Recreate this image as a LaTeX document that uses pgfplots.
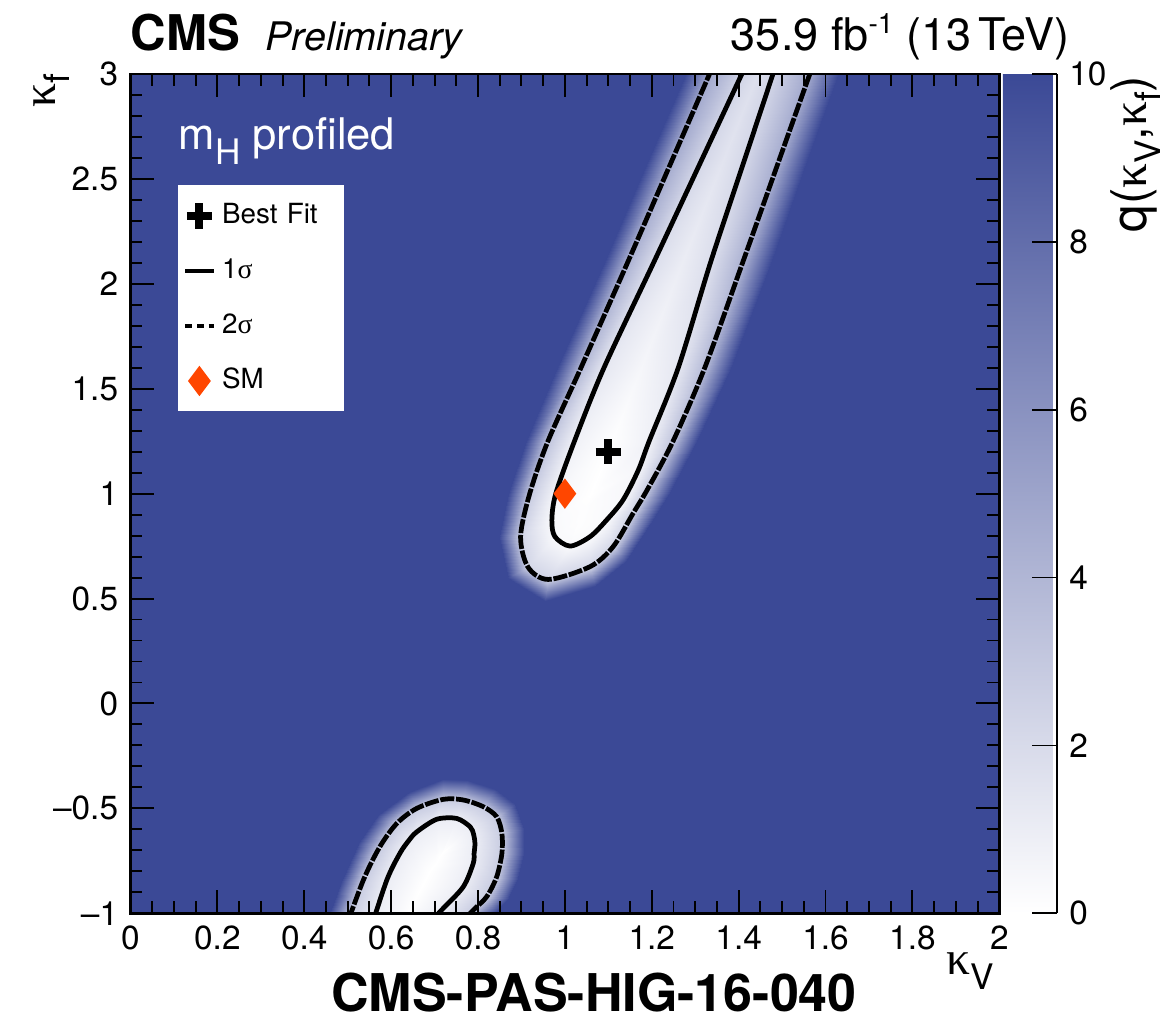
\documentclass[border=0pt]{standalone}
\usepackage{fontspec}
\setmainfont{TeX Gyre Heros}
\newfontfamily\grk{Liberation Serif}
\usepackage{pgfplots}
\usepackage{pgfplotstable}
\pgfplotsset{compat=1.18}
\definecolor{cmsblue}{RGB}{59,73,150}
\definecolor{smred}{RGB}{255,70,0}
\pgfplotsset{
  legimg mark/.style={legend image code/.code={\path (0cm,0cm) (0.29cm,0cm); \draw[##1] plot coordinates {(0.14cm,0cm)};}},
  legimg line/.style={legend image code/.code={\draw[##1] (0cm,0cm) -- (0.29cm,0cm);}},
}

% q(kV,kf) read off on nested rings: fade edge (q=10), 2 sigma, 1 sigma, ridge
\pgfplotstableread{
x y q
1.299 3.1 10
1.194 2.6 10
1.089 2.1 10
0.982 1.6 10
0.911 1.25 10
0.869 1.0 10
0.848 0.795 10
0.870 0.60 10
0.955 0.49 10
1.070 0.56 10
1.140 0.68 10
1.200 0.87 10
1.240 1.0 10
1.305 1.25 10
1.382 1.6 10
1.474 2.1 10
1.560 2.6 10
1.646 3.1 10
1.354 3.1 4.8
1.249 2.6 4.6
1.144 2.1 4.3
1.037 1.6 3.8
0.961 1.25 3.2
0.919 1.0 2.8
0.898 0.795 2.3
0.915 0.65 2.2
0.962 0.591 2.2
1.058 0.652 2.2
1.111 0.747 2.3
1.157 0.906 2.5
1.190 1.02 2.8
1.249 1.25 3.2
1.322 1.6 3.8
1.409 2.1 4.3
1.495 2.6 4.6
1.581 3.1 4.8
1.430 3.1 2.4
1.317 2.6 2.2
1.204 2.1 1.8
1.090 1.6 1.3
1.022 1.25 0.8
0.979 1.0 0.5
0.970 0.874 0.3
0.977 0.795 0.3
1.012 0.750 0.3
1.058 0.795 0.3
1.096 0.874 0.3
1.134 0.970 0.4
1.169 1.112 0.5
1.194 1.25 0.8
1.261 1.6 1.3
1.335 2.1 1.8
1.415 2.6 2.2
1.495 3.1 2.4
1.462 3.1 1.8
1.366 2.6 1.5
1.270 2.1 1.0
1.176 1.6 0.5
1.108 1.25 0.05
1.060 1.0 0.0
1.045 0.93 0.1
1.035 0.88 0.1
1.025 0.84 0.1
1.025 0.84 0.1
1.035 0.88 0.1
1.045 0.93 0.1
1.060 1.0 0.0
1.108 1.25 0.05
1.176 1.6 0.5
1.270 2.1 1.0
1.366 2.6 1.5
1.462 3.1 1.8
}\blobup

\pgfplotstableread{
x y q
0.440 -1.1 10
0.485 -0.85 10
0.525 -0.66 10
0.570 -0.53 10
0.640 -0.42 10
0.720 -0.36 10
0.775 -0.365 10
0.840 -0.41 10
0.885 -0.48 10
0.905 -0.60 10
0.905 -0.715 10
0.893 -0.83 10
0.870 -0.93 10
0.840 -1.0 10
0.790 -1.1 10
0.490 -1.1 2.8
0.536 -0.842 2.8
0.574 -0.683 2.8
0.613 -0.572 2.8
0.659 -0.500 2.8
0.720 -0.457 2.8
0.766 -0.460 2.8
0.812 -0.492 2.8
0.843 -0.540 2.8
0.855 -0.619 2.8
0.855 -0.715 2.8
0.843 -0.826 2.8
0.820 -0.921 2.8
0.789 -0.985 2.8
0.734 -1.1 2.8
0.549 -1.1 1.0
0.590 -0.842 1.0
0.620 -0.715 1.0
0.640 -0.655 1.0
0.659 -0.612 1.0
0.705 -0.552 1.0
0.751 -0.548 1.0
0.782 -0.588 1.0
0.790 -0.625 1.0
0.793 -0.667 1.0
0.791 -0.715 1.0
0.789 -0.762 1.0
0.766 -0.874 1.0
0.716 -0.985 1.0
0.664 -1.1 1.0
0.620 -1.1 0.1
0.650 -0.95 0.05
0.670 -0.87 0
0.685 -0.81 0
0.700 -0.77 0
0.710 -0.73 0
0.720 -0.71 0
0.725 -0.70 0
0.720 -0.71 0
0.710 -0.73 0
0.700 -0.77 0
0.685 -0.81 0
0.670 -0.87 0
0.650 -0.95 0.05
0.620 -1.1 0.1
}\blobdown

\begin{document}
\begin{tikzpicture}
\useasboundingbox (0,0) rectangle (11.65cm,10.2cm);
\begin{axis}[
  at={(1.305cm,1.067cm)}, anchor=south west,
  scale only axis, width=8.688cm, height=8.393cm,
  xmin=0, xmax=2, ymin=-1, ymax=3,
  axis background/.style={fill=cmsblue},
  colormap={cms}{rgb255=(255,255,255) rgb255=(59,73,150)},
  point meta min=0, point meta max=10,
  xtick={0,0.2,0.4,0.6,0.8,1,1.2,1.4,1.6,1.8,2},
  xticklabels={0,0.2,0.4,0.6,0.8,1,1.2,1.4,1.6,1.8,2},
  ytick={-1,-0.5,0,0.5,1,1.5,2,2.5,3},
  yticklabels={--1,--0.5,0,0.5,1,1.5,2,2.5,3},
  minor x tick num=3, minor y tick num=4,
  tick align=inside, major tick length=0.23cm, minor tick length=0.12cm,
  tick style={black, line width=0.55pt},
  axis line style={line width=0.8pt},
  ticklabel style={font=\fontsize{9.5}{11}\selectfont},
  axis on top,
  colorbar,
  colorbar shift/.style={xshift=0.037cm},
  colorbar style={at={(parent axis.north east)}, anchor=north west, width=0.54cm,
    ytick={0,2,4,6,8,10}, yticklabels={0,2,4,6,8,10},
    yticklabel style={font=\fontsize{9.5}{11}\selectfont},
    tick align=inside, ytick pos=right, major tick length=0.25cm,
    tick style={black, line width=0.5pt},
    axis x line=none, axis y line*=right, axis line style={line width=0.6pt}},
  legend style={at={(0.0535,0.868)}, anchor=north west, fill=white, draw=none,
    inner xsep=0.06cm, inner ysep=0.03cm, column sep=0.06cm, row sep=0pt,
    font=\fontsize{7.9}{9}\selectfont,
    nodes={inner sep=0pt, minimum height=0.55cm},
    /tikz/every even column/.append style={text width=1.16cm}},
  legend cell align=left,
]
\addplot[surf, shader=interp, mesh/cols=18, mesh/rows=4, point meta=explicit, forget plot] table[meta=q] {\blobup};
\addplot[surf, shader=interp, mesh/cols=15, mesh/rows=4, point meta=explicit, forget plot] table[meta=q] {\blobdown};

\addplot[black, line width=1.35pt, smooth, tension=0.5, forget plot,
  dash pattern=on 4pt off 0.5pt, restrict expr to domain={\coordindex}{18:35}] table {\blobup};
\addplot[black, line width=1.35pt, smooth, tension=0.5, forget plot,
  restrict expr to domain={\coordindex}{36:53}] table {\blobup};
\addplot[black, line width=1.35pt, smooth, tension=0.5, forget plot,
  dash pattern=on 4pt off 0.5pt, restrict expr to domain={\coordindex}{15:29}] table {\blobdown};
\addplot[black, line width=1.35pt, smooth, tension=0.5, forget plot,
  restrict expr to domain={\coordindex}{30:44}] table {\blobdown};

\addplot[only marks, mark=+, mark size=3.6pt, mark options={line width=2.3pt, black}, forget plot]
  coordinates {(1.1,1.2)};
\addplot[only marks, mark=diamond*, mark size=4pt, mark options={draw=smred, fill=smred}, forget plot]
  coordinates {(1,1)};

\addlegendimage{only marks, mark=+, mark size=3.6pt, mark options={line width=2.3pt, black}, legimg mark}
\addlegendentry{Best Fit}
\addlegendimage{black, line width=1pt, legimg line}
\addlegendentry{1{\grk σ}}
\addlegendimage{black, line width=1pt, dash pattern=on 1.9pt off 1.4pt, legimg line}
\addlegendentry{2{\grk σ}}
\addlegendimage{only marks, mark=diamond*, mark size=4pt, mark options={draw=smred, fill=smred}, legimg mark}
\addlegendentry{SM}
\end{axis}

\node[anchor=base west, inner sep=0pt, font=\fontsize{14}{16}\selectfont\bfseries] at (1.30cm,9.69cm) {CMS};
\node[anchor=base west, inner sep=0pt, font=\fontsize{11.2}{13}\selectfont\itshape] at (2.65cm,9.69cm) {Preliminary};
\node[anchor=base east, inner sep=0pt, font=\fontsize{12.8}{15}\selectfont] at (10.70cm,9.69cm)
  {35.9 fb\raisebox{0.75ex}{\fontsize{8}{8}\selectfont -1} (13\,TeV)};
\node[anchor=base, inner sep=0pt, font=\fontsize{14.8}{17}\selectfont\bfseries] at (5.94cm,0.08cm) {CMS-PAS-HIG-16-040};
\node[anchor=base east, inner sep=0pt, font=\fontsize{13.5}{15}\selectfont] at (9.95cm,0.45cm)
  {{\grk κ}\raisebox{-4pt}{\fontsize{10}{10}\selectfont V}};
\node[anchor=base east, rotate=90, inner sep=0pt, font=\fontsize{13.5}{15}\selectfont] at (0.55cm,9.47cm)
  {{\grk κ}\raisebox{-4pt}{\fontsize{10}{10}\selectfont f}};
\node[anchor=base east, rotate=90, inner sep=0pt, font=\fontsize{14}{16}\selectfont] at (11.46cm,9.45cm)
  {q({\grk κ}\raisebox{-4pt}{\fontsize{10}{10}\selectfont V},{\grk κ}\raisebox{-4pt}{\fontsize{10}{10}\selectfont f})};
\node[anchor=base west, inner sep=0pt, text=white, font=\fontsize{12.4}{15}\selectfont] at (1.78cm,8.70cm)
  {m\raisebox{-4.2pt}{\fontsize{10}{10}\selectfont H} profiled};
\end{tikzpicture}
\end{document}
